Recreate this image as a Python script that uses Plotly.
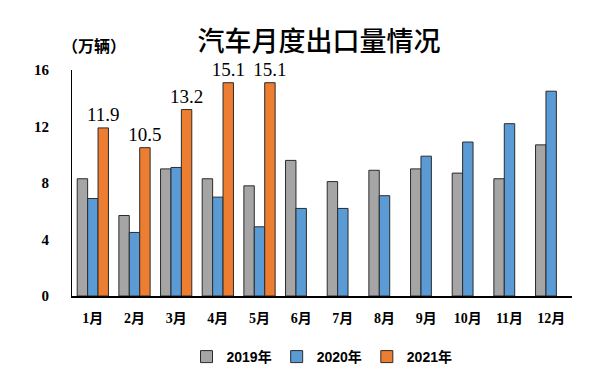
import plotly.graph_objects as go

months = ["1月", "2月", "3月", "4月", "5月", "6月", "7月", "8月", "9月", "10月", "11月", "12月"]
exports_2019 = [8.3, 5.7, 9.0, 8.3, 7.8, 9.6, 8.1, 8.9, 9.0, 8.7, 8.3, 10.7]
exports_2020 = [6.9, 4.5, 9.1, 7.0, 4.9, 6.2, 6.2, 7.1, 9.9, 10.9, 12.2, 14.5]
exports_2021 = [11.9, 10.5, 13.2, 15.1, 15.1, None, None, None, None, None, None, None]
series_names = ["2019年", "2020年", "2021年"]
y_ticks = [0, 4, 8, 12, 16]

colors = ["#A5A5A5", "#5B9BD5", "#ED7D31"]
outline = "#2b2b2b"

# page body has a default 8px margin, so the figure is sized/placed to compensate
W, H = 603, 371

fig = go.Figure()
for name, vals, col in zip(series_names, [exports_2019, exports_2020, exports_2021], colors):
    is_2021 = name == "2021年"
    fig.add_trace(go.Bar(
        x=months, y=vals, name=name,
        marker=dict(color=col, line=dict(color=outline, width=1)),
        text=[f"{v:.1f}" if v is not None else "" for v in vals] if is_2021 else None,
        textposition="outside" if is_2021 else None,
        constraintext="none",
        textfont=dict(family="Liberation Serif, DejaVu Serif, serif", size=19, color="#000"),
        cliponaxis=False,
    ))

fig.update_layout(
    width=W, height=H,
    margin=dict(l=64, r=39, t=62, b=83, autoexpand=False),
    paper_bgcolor="white", plot_bgcolor="white",
    barmode="group", bargap=0.25, bargroupgap=0,
    title=dict(text="汽车月度出口量情况", x=311 / W, xref="container", xanchor="center",
               y=1 - 34 / H, yref="container", yanchor="middle",
               font=dict(family="Noto Sans CJK SC", size=27, color="#000", weight=500)),
    legend=dict(orientation="h", x=0.5, xanchor="center", y=1 - 349 / H, yref="container",
                yanchor="middle", font=dict(family="Liberation Sans, Noto Sans CJK SC", size=14,
                                             color="#000", weight="bold"),
                itemwidth=30, traceorder="normal"),
    showlegend=True,
    annotations=[dict(text="（万辆）", xref="paper", yref="paper", x=-0.025, y=1.11,
                      xanchor="left", yanchor="middle", showarrow=False,
                      font=dict(family="Noto Sans CJK SC", size=16, color="#000", weight="bold"))],
)
fig.update_xaxes(showline=True, linecolor="#000", linewidth=1.5, ticks="", showgrid=False,
                 tickfont=dict(family="Liberation Serif, Noto Sans CJK SC", size=14, color="#000", weight="bold"),
                 ticklabelstandoff=8)
fig.update_yaxes(range=[0, 16], tickvals=y_ticks, showline=True, linecolor="#000", linewidth=1,
                 showgrid=False, zeroline=False, ticks="",
                 tickfont=dict(family="Liberation Serif", size=15, color="#000", weight="bold"),
                 ticklabelstandoff=19)

fig.write_html("out.html")
